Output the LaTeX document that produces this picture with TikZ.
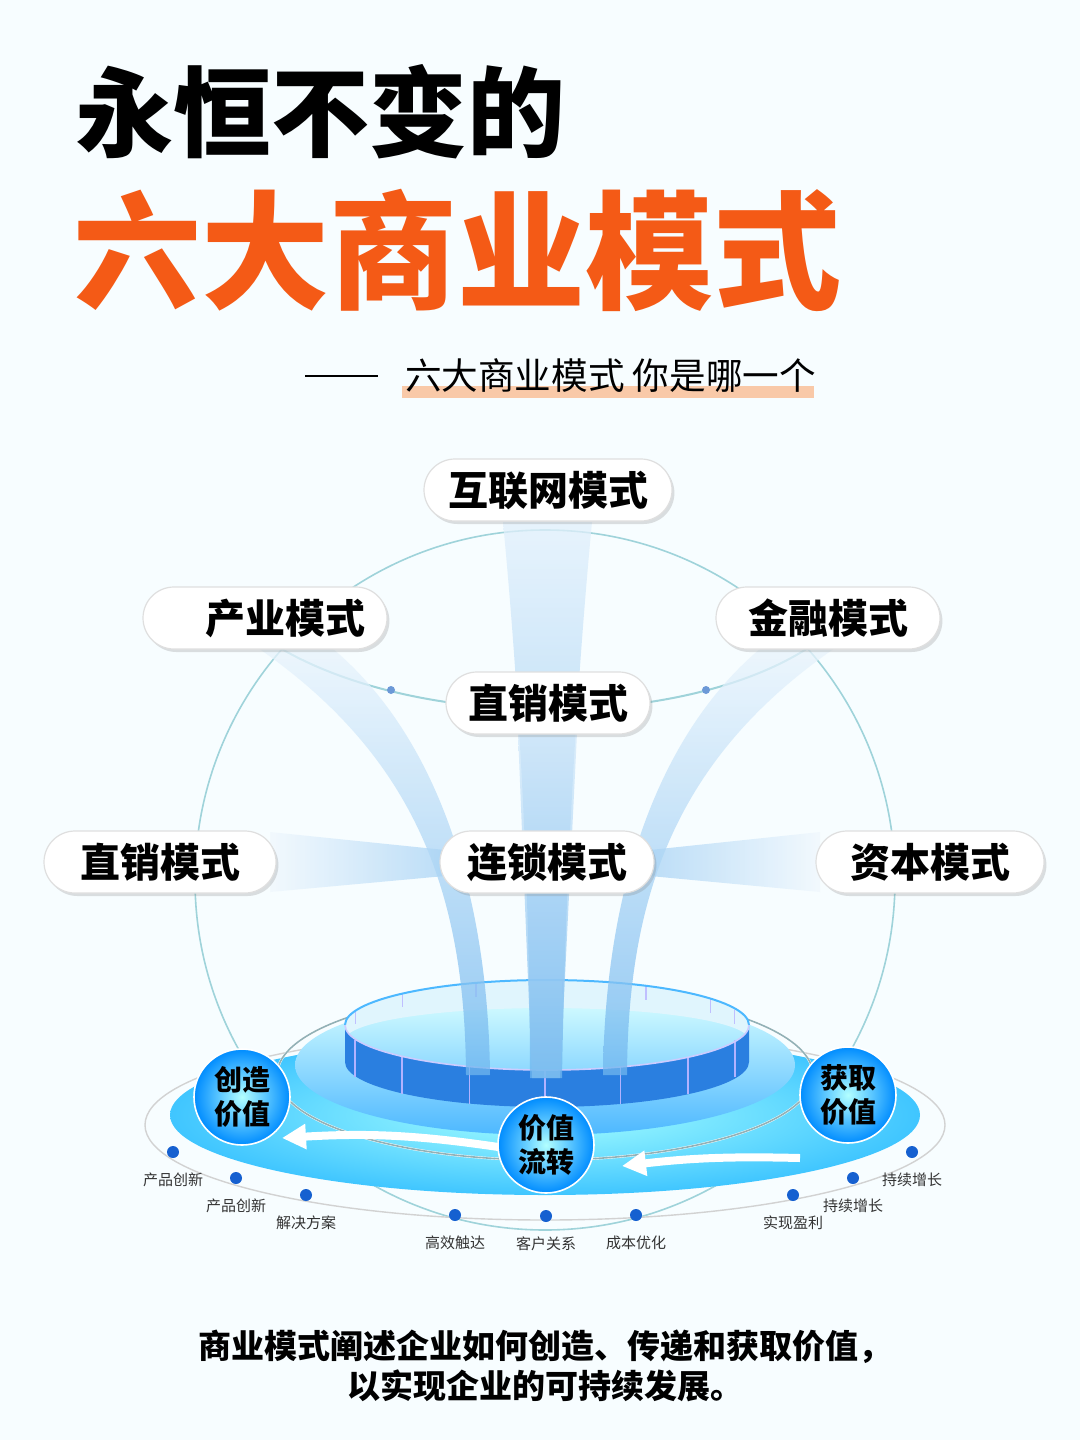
\documentclass[tikz,border=0pt]{standalone}
\usepackage{fontspec}
\setmainfont{Noto Sans CJK SC}
\usetikzlibrary{shadows,arrows.meta}
\definecolor{orng}{HTML}{F45A16}
\definecolor{hl}{HTML}{F9C9A8}
\definecolor{rim}{HTML}{9FD3DA}
\definecolor{dotb}{HTML}{1560D0}
\definecolor{beam}{HTML}{6FB6EE}
\definecolor{wall}{HTML}{2A7FE0}
\begin{document}
\begin{tikzpicture}[x=0.5pt,y=-0.5pt,
  pill/.style={draw=gray!25,line width=0.6pt,fill=white,rounded corners=15.5pt,minimum height=31pt,inner xsep=10pt,
     font=\fontsize{20}{22}\selectfont\bfseries,drop shadow={shadow xshift=1.2pt,shadow yshift=-1.5pt,opacity=0.25}},
  bub/.style={circle,minimum size=48pt,inner sep=0pt,inner color=white!70!cyan,outer color=blue!45!cyan,draw=white,line width=0.8pt,
     align=center,font=\fontsize{14}{17}\selectfont\bfseries},
  dt/.style={circle,fill=dotb,inner sep=0pt,minimum size=6pt},
  sm/.style={font=\fontsize{7.5}{8}\selectfont,text=black!80}]
\useasboundingbox (0,0) rectangle (1080,1440);
\fill[white!97!cyan] (0,0) rectangle (1080,1440);
% titles
\node[anchor=west,font=\fontsize{49}{50}\selectfont\bfseries] (t1) at (68,112) {永恒不变的};
\node[anchor=west,font=\fontsize{64}{66}\selectfont\bfseries,text=orng] (t2) at (66,250) {六大商业模式};
\fill[hl] (402,386) rectangle (814,398);
\node[anchor=west,font=\fontsize{18.3}{19}\selectfont] (t3) at (398,376) {六大商业模式\ 你是哪一个};
\coordinate (la) at (305,376); \coordinate (lb) at (378,376);
\draw[line width=1.2pt] (la) -- (lb);
% big circle
\draw[rim,line width=0.8pt] (545,880) circle[radius=350];
\draw[rim,line width=1pt] (280,648) .. controls (420,730) and (680,730) .. (808,648);
\node[circle,fill=cyan!50!blue!60,inner sep=0pt,minimum size=4pt] (d1) at (391,690) {};
\node[circle,fill=cyan!50!blue!60,inner sep=0pt,minimum size=4pt] (d2) at (706,690) {};
% platform
\draw[gray!35,line width=0.7pt] (545,1125) ellipse[x radius=400,y radius=95];
\shade[inner color=cyan!35,outer color=cyan!70!blue!75] (545,1115) ellipse[x radius=375,y radius=80];
\draw[white,line width=1.2pt] (545,1075) ellipse[x radius=268,y radius=85];
\draw[rim!60!gray,line width=0.8pt] (545,1075) ellipse[x radius=268,y radius=85];
\shade[top color=cyan!15,bottom color=blue!40!cyan!70] (545,1065) ellipse[x radius=250,y radius=70];
% cylinder
\fill[cyan!12] (345,1025) arc[start angle=180,end angle=360,x radius=202,y radius=45] -- (749,1040) arc[start angle=360,end angle=180,x radius=202,y radius=32] -- cycle;
\foreach \a in {200,225,250,275,300,325,340} {\draw[blue!25,line width=0.6pt] ({545+202*cos(\a)},{1025+45*sin(\a)}) -- ++(0,14);}
\draw[blue!40!cyan!70,line width=1pt] (345,1025) arc[start angle=180,end angle=360,x radius=202,y radius=45];
\fill[wall] (345,1025) arc[start angle=180,end angle=0,x radius=202,y radius=45] -- (749,1062) arc[start angle=0,end angle=180,x radius=202,y radius=45] -- cycle;
\foreach \a in {20,45,68,90,112,135,160} {\draw[white!70!blue,line width=0.8pt] ({545+202*cos(\a)},{1025+45*sin(\a)}) -- ++(0,37);}
\draw[white!80!blue,line width=0.8pt] (345,1025) arc[start angle=180,end angle=0,x radius=202,y radius=45];
% beams
\begin{scope}[opacity=0.75]
\shade[top color=beam!20,bottom color=beam] (503,522) .. controls (520,700) and (530,900) .. (530,1078) -- (562,1078) .. controls (565,900) and (575,700) .. (592,522) -- cycle;
\shade[top color=beam!30,bottom color=beam!90] (518,733) -- (532,1078) -- (560,1078) -- (577,733) -- cycle;
\shade[top color=beam!15,bottom color=beam] (258,648) .. controls (420,760) and (465,900) .. (466,1075) -- (490,1075) .. controls (488,880) and (430,730) .. (332,648) -- cycle;
\shade[top color=beam!15,bottom color=beam] (835,648) .. controls (673,760) and (628,900) .. (627,1075) -- (603,1075) .. controls (605,880) and (663,730) .. (761,648) -- cycle;
\shade[left color=beam!10,right color=beam!60] (270,832) -- (445,850) -- (445,876) -- (270,892) -- cycle;
\shade[right color=beam!10,left color=beam!60] (820,832) -- (650,850) -- (650,876) -- (820,892) -- cycle;
\end{scope}
% pills
\node[pill,minimum width=124pt] (p1) at (548,490) {互联网模式};
\node[pill,minimum width=122pt,text width=100pt,align=right] (p2) at (265,618) {产业模式};
\node[pill,minimum width=112pt] (p3) at (828,618) {金融模式};
\node[pill,minimum width=102pt] (p4) at (548,703) {直销模式};
\node[pill,minimum width=116pt] (p5) at (160,862) {直销模式};
\node[pill,minimum width=107pt] (p6) at (547,862) {连锁模式};
\node[pill,minimum width=114pt] (p7) at (930,862) {资本模式};
% arrows
\coordinate (a1) at (800,1158); \coordinate (a2) at (622,1166);
\coordinate (a3) at (505,1148); \coordinate (a4) at (282,1138);
\draw[white,line width=4pt,-{Triangle[width=12pt,length=12pt]}] (a1) to[bend left=-4] (a2);
\draw[white,line width=4pt,-{Triangle[width=12pt,length=12pt]}] (a3) to[bend left=-6] (a4);
% bubbles
\node[bub] (b1) at (242,1097) {创造\\价值};
\node[bub] (b2) at (546,1145) {价值\\流转};
\node[bub] (b3) at (848,1095) {获取\\价值};
% dots & labels
\foreach \x/\y/\t/\n in {173/1152/产品创新/q1,236/1178/产品创新/q2,306/1195/解决方案/q3,455/1215/高效触达/q4,546/1216/客户关系/q5,636/1215/成本优化/q6,793/1195/实现盈利/q7,853/1178/持续增长/q8,912/1152/持续增长/q9} {
  \node[dt] (\n) at (\x,\y) {};
  \node[sm] (\n l) at (\x,\y+28) {\t};
}
% bottom text
\node[font=\fontsize{16.5}{20}\selectfont\bfseries,align=center] (bt) at (545,1366) {商业模式阐述企业如何创造、传递和获取价值，\\以实现企业的可持续发展。};
\end{tikzpicture}
\end{document}
